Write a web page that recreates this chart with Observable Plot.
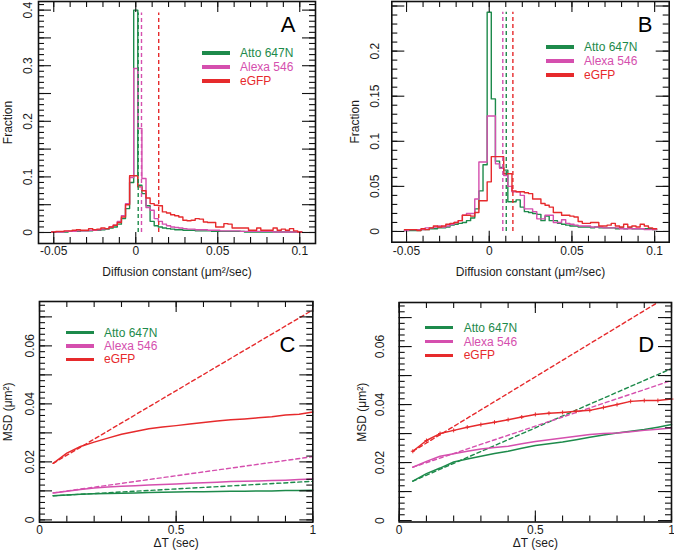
<!DOCTYPE html>
<html><head><meta charset="utf-8">
<script src="https://cdn.jsdelivr.net/npm/d3@7"></script>
<script src="https://cdn.jsdelivr.net/npm/@observablehq/plot@0.6"></script>
<style>
body{margin:0;background:#fff;font-family:"Liberation Sans",Arial,sans-serif;}
#wrap{position:relative;width:674px;height:552px;overflow:hidden;background:#fff;}
.panel{position:absolute;}
.panel svg{overflow:visible;display:block;}
.row{position:absolute;white-space:nowrap;font-size:12px;line-height:14px;}
.sw{position:absolute;height:3.5px;}
</style></head><body><div id="wrap"></div><script>
// ---------- data ----------
const seriesNames = ["Atto 647N", "Alexa 546", "eGFP"];
const seriesColors = ["#1d8a4b", "#d54fae", "#e62a2c"];

// histogram bins: centers from -0.05 to 0.1, width 0.0025
const binWidth = 0.0025;
const binCenters = d3.range(61).map(k => +(-0.05 + binWidth * k).toFixed(5));

const histA_atto = [0.001,0.001,0.001,0.001,0.002,0.002,0.002,0.003,0.003,
  0.003,0.004,0.004,0.005,0.006,0.008,0.010,0.015,0.025,0.043,0.090,
  0.400,0.085,0.070,0.048,0.020,0.012,0.010,0.008,0.007,0.006,
  0.005,0.005,0.004,0.004,0.004,0.003,0.003,0.003,0.003,0.002,
  0.002,0.002,0.002,0.002,0.002,0.002,0.002,0.001,0.001,0.001,
  0.001,0.001,0.001,0.001,0.001,0.001,0.001,0.001,0.001,0.001,0.001];
const histA_alexa = [0.001,0.001,0.001,0.002,0.002,0.002,0.003,0.003,0.003,
  0.004,0.004,0.005,0.006,0.007,0.010,0.013,0.020,0.030,0.052,0.099,
  0.295,0.187,0.097,0.045,0.040,0.025,0.020,0.015,0.012,0.010,
  0.009,0.008,0.007,0.006,0.006,0.005,0.005,0.005,0.004,0.004,
  0.004,0.003,0.003,0.003,0.003,0.003,0.002,0.002,0.002,0.002,
  0.002,0.002,0.002,0.002,0.001,0.001,0.001,0.001,0.001,0.001,0.001];
const histA_egfp = [0.001,0.002,0.002,0.003,0.003,0.004,0.005,0.004,0.004,
  0.007,0.005,0.006,0.008,0.007,0.010,0.013,0.018,0.028,0.050,0.102,
  0.102,0.082,0.075,0.062,0.052,0.049,0.048,0.037,0.035,0.032,
  0.030,0.028,0.022,0.021,0.022,0.025,0.024,0.019,0.018,0.018,
  0.010,0.010,0.016,0.015,0.008,0.008,0.008,0.008,0.004,0.004,
  0.008,0.004,0.004,0.004,0.008,0.004,0.006,0.004,0.007,0.003,0.001];

const histB_atto = [0.001,0.001,0.001,0.001,0.002,0.002,0.003,0.003,0.004,
  0.004,0.005,0.007,0.008,0.009,0.010,0.012,0.015,0.025,0.045,0.074,
  0.243,0.147,0.078,0.071,0.068,0.033,0.033,0.035,0.027,0.022,
  0.021,0.020,0.019,0.012,0.017,0.012,0.012,0.009,0.008,0.007,
  0.006,0.006,0.005,0.005,0.005,0.004,0.005,0.004,0.004,0.004,
  0.004,0.003,0.004,0.003,0.004,0.003,0.003,0.003,0.003,0.003,0.002];
const histB_alexa = [0.001,0.002,0.002,0.002,0.002,0.004,0.004,0.005,0.006,
  0.005,0.006,0.008,0.010,0.012,0.018,0.020,0.020,0.036,0.077,0.077,
  0.128,0.128,0.075,0.070,0.062,0.050,0.044,0.044,0.040,0.025,
  0.025,0.022,0.014,0.014,0.018,0.018,0.010,0.010,0.013,0.009,
  0.008,0.007,0.006,0.006,0.006,0.005,0.005,0.005,0.004,0.004,
  0.004,0.004,0.003,0.003,0.003,0.003,0.003,0.003,0.002,0.002,0.002];
const histB_egfp = [0.002,0.002,0.002,0.001,0.003,0.002,0.004,0.006,0.005,
  0.006,0.008,0.009,0.010,0.012,0.018,0.018,0.017,0.021,0.034,0.034,
  0.055,0.083,0.083,0.083,0.064,0.064,0.045,0.044,0.044,0.043,
  0.042,0.036,0.036,0.031,0.029,0.027,0.021,0.021,0.018,0.018,
  0.017,0.016,0.011,0.009,0.009,0.010,0.010,0.006,0.006,0.007,
  0.009,0.006,0.005,0.008,0.005,0.006,0.005,0.008,0.006,0.004,0.003];

// dashed median markers (Atto, Alexa, eGFP) and their top
const medianA = [0.0015, 0.0035, 0.014];
const medianTopA = 0.395;
const medianB = [0.0103, 0.0082, 0.0143];
const medianTopB = 0.243;

// MSD curves
const dT = [0.05,0.1,0.15,0.2,0.25,0.3,0.35,0.4,0.45,0.5,0.55,0.6,0.65,0.7,0.75,0.8,0.85,0.9,0.95,1.0];
const msdC_atto = [0.0083,0.0086,0.0088,0.0090,0.0091,0.0092,0.0093,0.0094,0.0095,0.0096,0.0097,0.0097,0.0098,0.0099,0.0099,0.0100,0.0100,0.0101,0.0101,0.0102];
const msdC_alexa = [0.0093,0.0099,0.0105,0.0110,0.0113,0.0116,0.0118,0.0120,0.0122,0.0124,0.0126,0.0128,0.0130,0.0132,0.0133,0.0134,0.0136,0.0137,0.0139,0.0141];
const msdC_egfp = [0.0195,0.0230,0.0253,0.0268,0.0282,0.0295,0.0305,0.0314,0.0320,0.0325,0.0331,0.0336,0.0341,0.0345,0.0348,0.0352,0.0356,0.0362,0.0364,0.0372];
const fitC_atto = [[0.05,0.0083],[1.0,0.0133]];
const fitC_alexa = [[0.05,0.0093],[1.0,0.0218]];
const fitC_egfp = [[0.05,0.0195],[1.0,0.0724]];

const msdD_atto = [0.0136,0.0162,0.0181,0.0202,0.0212,0.0222,0.0231,0.0239,0.0249,0.0259,0.0265,0.0271,0.0279,0.0287,0.0295,0.0302,0.0308,0.0314,0.0322,0.0331];
const msdD_alexa = [0.0184,0.0204,0.0222,0.0230,0.0239,0.0247,0.0252,0.0256,0.0265,0.0273,0.0279,0.0285,0.0291,0.0297,0.0300,0.0302,0.0306,0.0311,0.0315,0.0319];
const msdD_egfp = [0.0239,0.0276,0.0300,0.0311,0.0322,0.0331,0.0339,0.0348,0.0357,0.0366,0.0370,0.0373,0.0377,0.0380,0.0390,0.0400,0.0411,0.0414,0.0414,0.0419];
const fitD_atto = [[0.05,0.0136],[1.0,0.0524]];
const fitD_alexa = [[0.05,0.0184],[1.0,0.0483]];
const fitD_egfp = [[0.05,0.0239],[1.0,0.0781]];

// tick labels
const histXTickVals = [-0.05, 0, 0.05, 0.1];
const histXTickLabels = ["-0.05", "0", "0.05", "0.1"];
const histAYTickVals = [0, 0.1, 0.2, 0.3, 0.4];
const histAYTickLabels = ["0", "0.1", "0.2", "0.3", "0.4"];
const histBYTickVals = [0, 0.05, 0.1, 0.15, 0.2];
const histBYTickLabels = ["0", "0.05", "0.1", "0.15", "0.2"];
const msdXTickVals = [0, 0.5, 1];
const msdXTickLabels = ["0", "0.5", "1"];
const msdYTickVals = [0, 0.02, 0.04, 0.06];
const msdYTickLabels = ["0", "0.02", "0.04", "0.06"];

// ---------- helpers ----------
const rng = (a, b, s) => d3.range(Math.round((b - a) / s) + 1).map(i => +(a + i * s).toFixed(6));
const FONT = "Liberation Sans, Arial, sans-serif";

function frameTicks(p, xMinor, xMajor, yMinor, yMajor, lx, LX, ly, LY) {
  const iw = p.width - p.ml - p.mr, ih = p.height - p.mt - p.mb;
  const s = {stroke: "#111", strokeWidth: 1.1};
  const m = [];
  for (const [vals, L] of [[xMinor, lx], [xMajor, LX]]) {
    m.push(Plot.tickX(vals, {x: d => d, insetTop: ih - L, ...s}));
    m.push(Plot.tickX(vals, {x: d => d, insetBottom: ih - L, ...s}));
  }
  for (const [vals, L] of [[yMinor, ly], [yMajor, LY]]) {
    m.push(Plot.tickY(vals, {y: d => d, insetRight: iw - L, ...s}));
    m.push(Plot.tickY(vals, {y: d => d, insetLeft: iw - L, ...s}));
  }
  return m;
}

function labelMarks(o) {
  return [
    Plot.text(o.xv, {x: d => d, text: (d, i) => o.xl[i], frameAnchor: "bottom", dy: o.xdy, lineAnchor: "middle", fontSize: 12, fill: "#1a1a1a"}),
    Plot.text(o.yv, {y: d => d, text: (d, i) => o.yl[i], frameAnchor: "left", dx: o.ydx, rotate: -90, textAnchor: "middle", lineAnchor: "middle", fontSize: 12, fill: "#1a1a1a"}),
    Plot.text([o.xt], {frameAnchor: "bottom", dy: o.xtdy, lineAnchor: "middle", fontSize: 12, fill: "#1a1a1a"}),
    Plot.text([o.yt], {frameAnchor: "left", dx: o.ytdx, rotate: -90, textAnchor: "middle", lineAnchor: "middle", fontSize: 12, fill: "#1a1a1a"}),
    Plot.text([o.letter], {frameAnchor: "top-right", dx: o.ldx, dy: o.ldy, textAnchor: "end", lineAnchor: "middle", fontSize: 22, fill: "#000"})
  ];
}

function stepData(vals) {
  const pts = vals.map((v, i) => ({x: binCenters[i] - binWidth / 2, y: v}));
  pts.push({x: binCenters[vals.length - 1] + binWidth / 2, y: vals[vals.length - 1]});
  return pts;
}

function histPanel(p) {
  const marks = [];
  p.hists.forEach((h, i) => marks.push(Plot.line(stepData(h), {x: "x", y: "y", curve: "step-after", stroke: seriesColors[i], strokeWidth: 1.4})));
  p.medians.forEach((m, i) => marks.push(Plot.ruleX([m], {x: d => d, y1: 0, y2: p.medTop, stroke: seriesColors[i], strokeWidth: 1.4, strokeDasharray: "4,3"})));
  marks.push(...frameTicks(p, rng(-0.05, 0.1, 0.01), rng(-0.05, 0.1, 0.05), p.yMinor, p.yMajor, 6, 11, 6, 13));
  marks.push(Plot.frame({stroke: "#111", strokeWidth: 1.6}));
  marks.push(...labelMarks(p.labels));
  return Plot.plot({
    width: p.width, height: p.height,
    marginLeft: p.ml, marginRight: p.mr, marginTop: p.mt, marginBottom: p.mb,
    style: {fontFamily: FONT, fontSize: "12px", background: "transparent", overflow: "visible"},
    x: {domain: p.xdom, axis: null},
    y: {domain: p.ydom, axis: null},
    marks
  });
}

function msdPanel(p) {
  const marks = [];
  p.fits.forEach((f, i) => marks.push(Plot.line(f, {x: d => d[0], y: d => d[1], stroke: seriesColors[i], strokeWidth: 1.4, strokeDasharray: "4,3", clip: true})));
  p.curves.forEach((c, i) => marks.push(Plot.line(dT.map((t, j) => ({t, v: c[j]})), {x: "t", y: "v", stroke: seriesColors[i], strokeWidth: 1.5})));
  if (p.markers) marks.push(Plot.dot(dT.map((t, j) => ({t, v: p.curves[2][j]})), {x: "t", y: "v", symbol: "plus", r: 1.4, stroke: seriesColors[2], strokeWidth: 1}));
  marks.push(...frameTicks(p, rng(0, 1, 0.1), [0, 0.5, 1], rng(0, 0.074, 0.002), rng(0, 0.07, 0.01), 6, 11, 6, 13));
  marks.push(Plot.frame({stroke: "#111", strokeWidth: 1.6}));
  marks.push(...labelMarks(p.labels));
  return Plot.plot({
    width: p.width, height: p.height,
    marginLeft: p.ml, marginRight: p.mr, marginTop: p.mt, marginBottom: p.mb,
    style: {fontFamily: FONT, fontSize: "12px", background: "transparent", overflow: "visible"},
    x: {domain: [0, 1], axis: null},
    y: {domain: p.ydom, axis: null},
    marks
  });
}

const wrap = document.getElementById("wrap");
function place(el, left, top) {
  const d = document.createElement("div");
  d.className = "panel"; d.style.left = left + "px"; d.style.top = top + "px";
  d.appendChild(el); wrap.appendChild(d);
}
function legend(swX, txtX, rowsY) {
  seriesNames.forEach((n, i) => {
    const sw = document.createElement("div");
    sw.className = "sw"; sw.style.left = swX + "px"; sw.style.top = (rowsY[i] - 1.75) + "px";
    sw.style.width = "28px"; sw.style.background = seriesColors[i];
    wrap.appendChild(sw);
    const t = document.createElement("div");
    t.className = "row"; t.style.left = txtX + "px"; t.style.top = (rowsY[i] - 7) + "px";
    t.style.color = seriesColors[i]; t.textContent = n;
    wrap.appendChild(t);
  });
}

// ---------- panels ----------
const xTitleHist = "Diffusion constant (\u03bcm\u00b2/sec)";
place(histPanel({
  width: 337, height: 276, ml: 38, mr: 22, mt: 1, mb: 33,
  xdom: [-0.0593, 0.1096], ydom: [-0.0198, 0.4155],
  hists: [histA_atto, histA_alexa, histA_egfp], medians: medianA, medTop: medianTopA,
  yMinor: rng(0, 0.41, 0.01), yMajor: rng(0, 0.4, 0.05),
  labels: {xv: histXTickVals, xl: histXTickLabels, yv: histAYTickVals, yl: histAYTickLabels,
    xdy: 8, ydx: -10, xt: xTitleHist, xtdy: 29, yt: "Fraction", ytdx: -30.5, letter: "A", ldx: -20, ldy: 23}
}), 0, 0);

place(histPanel({
  width: 337, height: 276, ml: 54.3, mr: 5.3, mt: 1, mb: 34.3,
  xdom: [-0.0589, 0.1088], ydom: [-0.0119, 0.255],
  hists: [histB_atto, histB_alexa, histB_egfp], medians: medianB, medTop: medianTopB,
  yMinor: rng(0, 0.25, 0.01), yMajor: rng(0, 0.25, 0.05),
  labels: {xv: histXTickVals, xl: histXTickLabels, yv: histBYTickVals, yl: histBYTickLabels,
    xdy: 9.3, ydx: -16.3, xt: xTitleHist, xtdy: 30.3, yt: "Fraction", ytdx: -36.3, letter: "B", ldx: -16.7, ldy: 23}
}), 337, 0);

place(msdPanel({
  width: 337, height: 276, ml: 39, mr: 24.7, mt: 25, mb: 30.3,
  ydom: [-0.0008, 0.0753],
  curves: [msdC_atto, msdC_alexa, msdC_egfp], fits: [fitC_atto, fitC_alexa, fitC_egfp], markers: false,
  labels: {xv: msdXTickVals, xl: msdXTickLabels, yv: msdYTickVals, yl: msdYTickLabels,
    xdy: 8, ydx: -9, xt: "\u0394T (sec)", xtdy: 21, yt: "MSD (\u03bcm\u00b2)", ytdx: -31, letter: "C", ldx: -17.3, ldy: 43}
}), 0, 276);

place(msdPanel({
  width: 337, height: 276, ml: 61.7, mr: 3, mt: 26, mb: 30.5,
  ydom: [-0.0005, 0.0752],
  curves: [msdD_atto, msdD_alexa, msdD_egfp], fits: [fitD_atto, fitD_alexa, fitD_egfp], markers: true,
  labels: {xv: msdXTickVals, xl: msdXTickLabels, yv: msdYTickVals, yl: msdYTickLabels,
    xdy: 8.2, ydx: -18.7, xt: "\u0394T (sec)", xtdy: 21.5, yt: "MSD (\u03bcm\u00b2)", ytdx: -36.7, letter: "D", ldx: -17.3, ldy: 42.3}
}), 337, 276);

legend(202, 240, [53, 67, 81]);
legend(546, 584, [47, 61, 75]);
legend(66, 104, [332.7, 346, 359.3]);
legend(425.3, 463.7, [327.7, 341.7, 355.3]);
</script></body></html>
